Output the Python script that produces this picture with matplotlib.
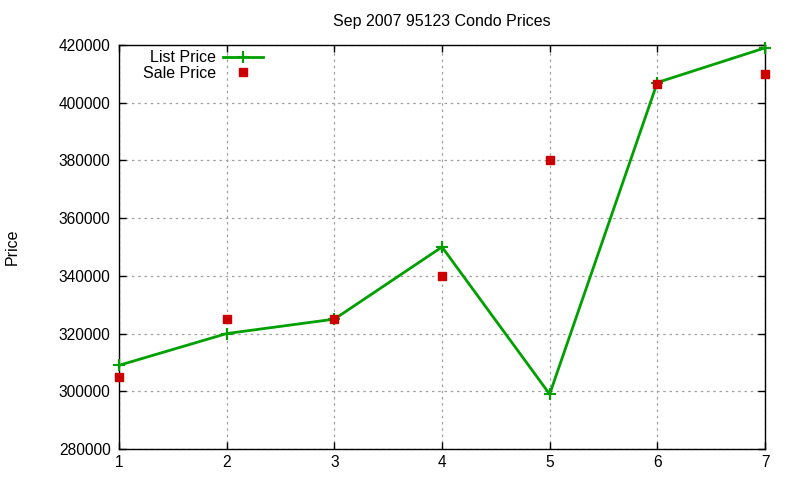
import matplotlib
matplotlib.use("Agg")
import matplotlib.pyplot as plt

plt.rcParams["font.family"] = ["Liberation Sans", "DejaVu Sans"]

x = [1, 2, 3, 4, 5, 6, 7]
list_price = [309000, 320000, 325000, 350000, 299000, 407000, 419000]
sale_price = [305000, 325000, 325000, 340000, 380000, 406500, 410000]
yticks = [280000, 300000, 320000, 340000, 360000, 380000, 400000, 420000]

fig = plt.figure(figsize=(8, 4.8), dpi=100)
fig.subplots_adjust(left=119/800, right=765/800, top=1-45/480, bottom=1-449/480)
ax = fig.add_subplot(111)

ax.plot(x, list_price, color="#00a000", lw=2, marker="+", ms=9, mew=1.5,
        label="List Price", clip_on=False, zorder=3)
ax.plot(x, sale_price, ls="none", color="#cc0000", marker="s", ms=6,
        label="Sale Price", clip_on=False, zorder=4)

ax.set_xlim(1, 7)
ax.set_ylim(280000, 420000)
ax.set_xticks(x)
ax.set_yticks(yticks)
ax.tick_params(direction="in", length=5, width=1, labelsize=11.2,
               top=True, right=True, pad=6)
ax.tick_params(axis="x", pad=4)
for s in ax.spines.values():
    s.set_linewidth(1)
ax.grid(True, color="#a0a0a0", ls=(0, (2, 3)), lw=0.9)

ax.set_title("Sep 2007 95123 Condo Prices", fontsize=11.5, pad=14)
fig.text(12/800, 1 - 247/480, "Price", rotation=90, fontsize=11.5,
         ha="center", va="center")

ax.legend(loc="upper left", frameon=False, markerfirst=False, fontsize=11.5,
          handlelength=2.5, handletextpad=0.45, labelspacing=0.05,
          borderaxespad=0.0, bbox_to_anchor=(0.027, 1.003))

fig.savefig("out.png", dpi=100)
